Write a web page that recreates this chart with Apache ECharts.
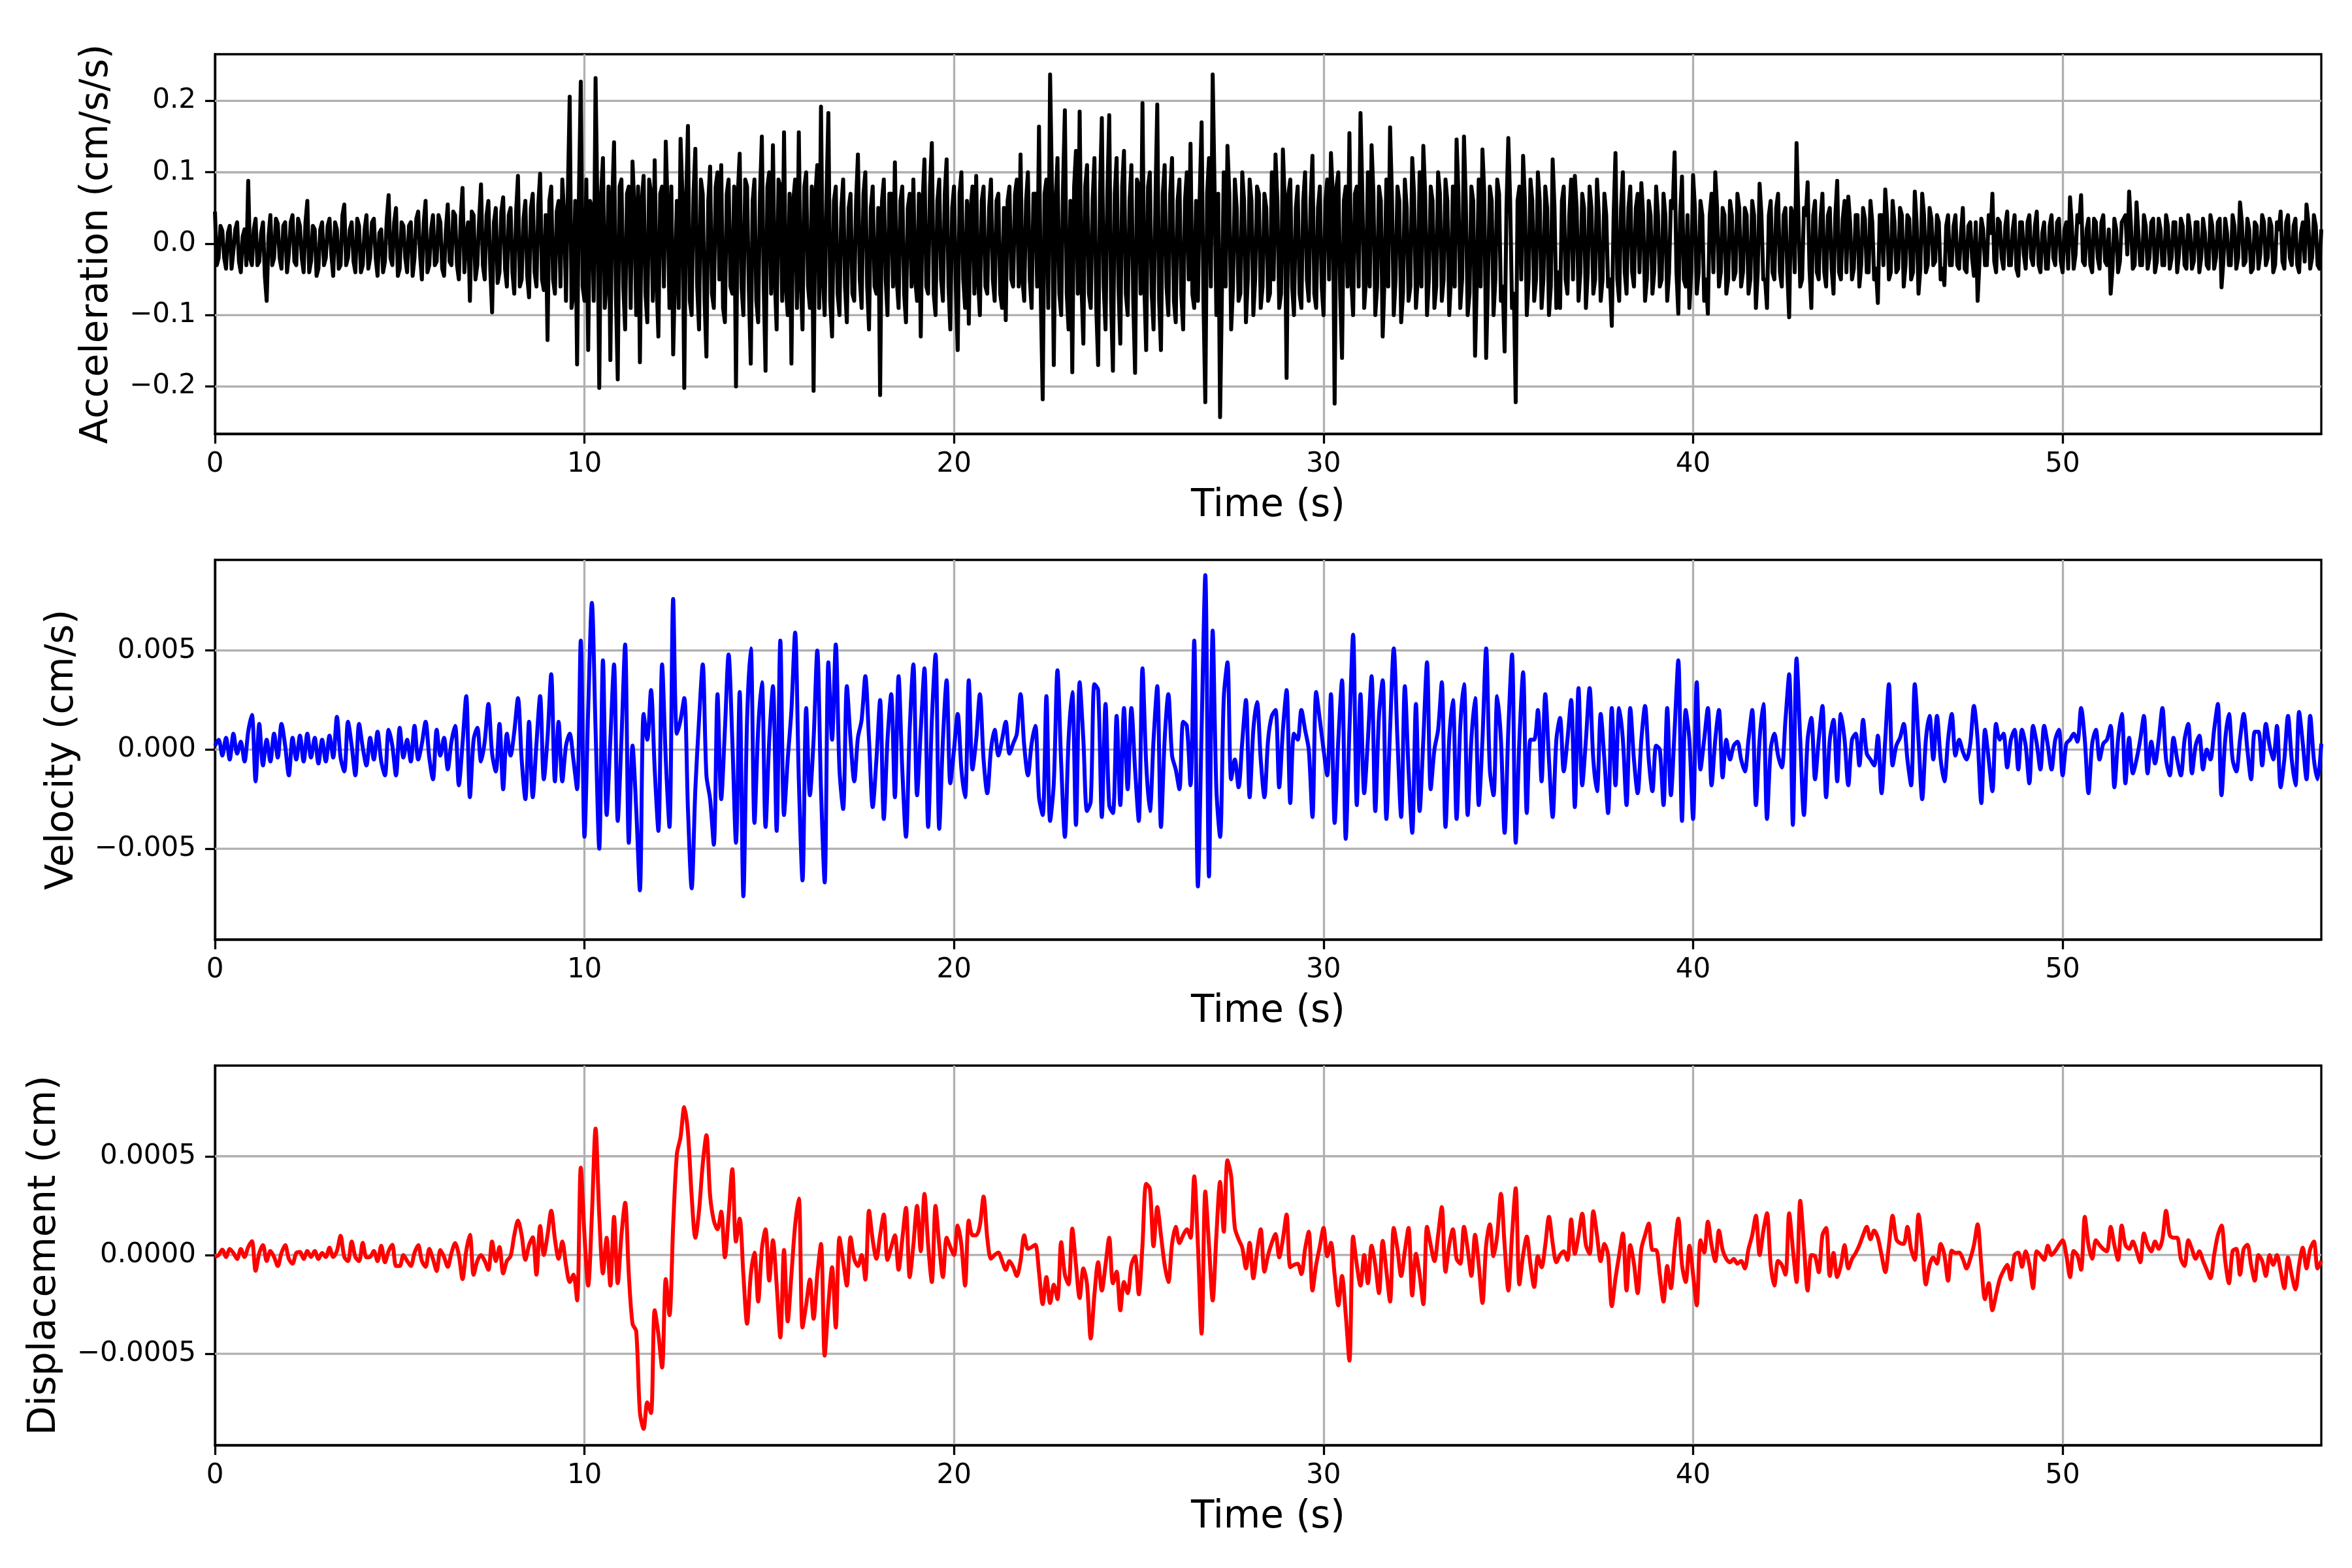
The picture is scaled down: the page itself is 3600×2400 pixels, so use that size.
<!DOCTYPE html>
<html>
<head>
<meta charset="utf-8">
<title>Acceleration, velocity and displacement</title>
<script src="https://cdn.jsdelivr.net/npm/echarts@6.0.0/dist/echarts.min.js"></script>
<style>
  html, body { margin: 0; padding: 0; background: #ffffff; }
  #chart { width: 3600px; height: 2400px; }
</style>
</head>
<body>
<div id="chart"></div>
<script>
// sampling step of the traces (s)
var dt = 0.1;

// acceleration, cm/s/s, at t = 0.0, 0.1, ... (one row per second)
var acceleration = [
  0.045, -0.02, 0.018, -0.035, 0.025, -0.01, 0.03, -0.04, 0.02, 0.088,
  -0.03, 0.035, -0.025, 0.03, -0.08, 0.04, -0.02, 0.028, -0.035, 0.03,
  -0.015, 0.04, -0.03, 0.025, -0.04, 0.06, -0.025, 0.02, -0.035, 0.03,
  -0.02, 0.035, -0.045, 0.02, -0.03, 0.055, -0.02, 0.03, -0.04, 0.025,
  -0.03, 0.04, -0.02, 0.035, -0.045, 0.02, -0.025, 0.068, -0.03, 0.05,
  -0.035, 0.025, -0.04, 0.03, -0.02, 0.045, -0.05, 0.06, -0.03, 0.04,
  -0.025, 0.03, -0.045, 0.055, -0.03, 0.04, -0.05, 0.078, 0.01, -0.08,
  0.04, -0.03, 0.083, -0.05, 0.06, -0.096, 0.05, -0.04, 0.065, -0.06,
  0.05, -0.07, 0.095, -0.05, 0.06, -0.075, 0.07, -0.06, 0.098, -0.065,
  -0.135, 0.08, -0.07, 0.06, 0.09, -0.08, 0.206, -0.07, -0.169, 0.227,
  -0.08, -0.149, 0.05, 0.232, -0.202, 0.12, -0.05, -0.163, 0.142, -0.19,
  0.09, -0.12, 0.08, 0.115, -0.1, -0.166, 0.095, -0.11, 0.07, 0.117,
  -0.13, 0.08, 0.143, -0.09, -0.155, 0.06, 0.147, -0.202, 0.165, -0.1,
  0.133, -0.12, 0.07, -0.158, 0.108, -0.09, 0.1, 0.11, -0.11, 0.09,
  -0.07, -0.2, 0.126, -0.1, 0.08, -0.168, 0.09, -0.11, 0.15, -0.178,
  0.1, 0.138, -0.12, 0.08, 0.156, -0.1, -0.168, 0.09, 0.156, -0.12,
  0.1, -0.09, -0.206, 0.11, 0.192, -0.1, 0.183, -0.13, 0.08, -0.1,
  0.09, -0.11, 0.07, -0.08, 0.125, -0.09, 0.1, -0.12, 0.08, -0.07,
  -0.212, 0.09, -0.1, 0.07, 0.114, -0.09, 0.08, -0.11, 0.07, 0.09,
  -0.08, -0.13, 0.118, -0.07, 0.141, -0.1, 0.09, -0.08, 0.118, -0.12,
  0.08, -0.149, 0.1, -0.09, -0.112, 0.08, 0.095, -0.1, 0.08, -0.07,
  0.09, -0.08, 0.07, -0.09, -0.107, 0.08, -0.06, 0.09, 0.125, -0.08,
  0.1, -0.09, 0.07, 0.164, -0.218, 0.09, 0.237, -0.17, 0.12, -0.1,
  0.187, -0.12, -0.18, 0.13, 0.185, -0.14, 0.11, -0.09, 0.12, -0.17,
  0.176, -0.12, 0.18, -0.178, 0.12, -0.14, 0.13, -0.1, 0.11, -0.181,
  0.08, 0.197, -0.149, 0.1, -0.12, 0.195, -0.149, 0.11, -0.1, 0.12,
  -0.11, 0.09, -0.12, 0.1, 0.14, -0.09, -0.08, 0.17, -0.222, 0.12,
  0.237, -0.1, -0.243, 0.1, 0.137, -0.12, 0.09, -0.08, 0.1, -0.11,
  0.09, -0.1, 0.08, -0.09, 0.07, -0.08, 0.1, 0.125, -0.09, 0.132,
  -0.188, 0.09, -0.1, 0.08, -0.09, 0.1, -0.08, 0.123, -0.09, 0.08,
  -0.1, 0.09, 0.127, -0.224, 0.1, -0.16, 0.08, 0.155, -0.1, 0.08,
  0.183, -0.09, 0.1, 0.138, -0.1, 0.08, -0.13, 0.09, 0.163, -0.1,
  0.08, -0.11, 0.09, -0.08, 0.12, -0.09, 0.1, 0.137, -0.1, 0.08,
  -0.09, 0.1, -0.08, 0.09, -0.1, 0.08, 0.146, -0.09, 0.15, -0.1,
  0.08, -0.157, 0.09, 0.132, -0.16, 0.08, -0.1, 0.09, -0.08, -0.151,
  0.148, -0.09, -0.222, 0.08, 0.123, -0.1, 0.09, -0.08, 0.1, -0.09,
  0.08, -0.1, 0.118, -0.09, -0.09, 0.08, -0.07, 0.09, 0.095, -0.08,
  0.07, -0.09, 0.08, -0.07, 0.09, -0.08, 0.07, -0.06, -0.115, 0.127,
  -0.08, 0.1, -0.07, 0.08, -0.06, 0.07, 0.085, -0.08, 0.06, -0.07,
  0.08, -0.06, 0.07, -0.08, 0.06, 0.128, -0.098, 0.094, -0.06, -0.09,
  0.096, -0.07, 0.06, -0.08, -0.098, 0.07, 0.1, -0.06, 0.05, -0.07,
  0.06, -0.05, 0.07, -0.06, 0.05, -0.07, 0.06, -0.09, 0.084, -0.05,
  -0.09, 0.06, -0.05, 0.07, -0.06, 0.05, -0.103, 0.04, 0.141, -0.06,
  0.05, 0.086, -0.09, 0.06, -0.05, 0.07, -0.06, 0.05, -0.07, 0.088,
  -0.05, 0.06, 0.066, -0.05, 0.04, -0.06, 0.05, -0.04, 0.06, -0.05,
  -0.083, 0.04, 0.076, -0.05, 0.06, -0.04, 0.05, -0.06, 0.04, -0.05,
  0.073, -0.07, 0.07, -0.04, 0.05, -0.03, 0.04, -0.05, -0.058, 0.04,
  -0.03, 0.04, -0.035, 0.05, -0.04, 0.03, -0.045, -0.08, 0.035, -0.03,
  0.04, 0.07, -0.04, 0.03, -0.035, 0.045, -0.03, 0.04, -0.045, 0.03,
  -0.035, 0.04, -0.03, 0.045, -0.04, 0.03, -0.035, 0.04, -0.03, 0.035,
  -0.04, 0.03, 0.065, -0.035, 0.04, 0.068, -0.03, 0.035, -0.04, 0.03,
  -0.035, 0.04, -0.03, -0.07, 0.035, -0.04, 0.03, 0.04, 0.073, -0.035,
  0.058, -0.03, 0.04, -0.035, 0.03, -0.04, 0.035, -0.03, 0.04, -0.035,
  0.03, -0.04, 0.035, -0.03, 0.04, -0.035, 0.03, -0.04, 0.035, -0.03,
  0.04, -0.035, 0.03, -0.061, 0.035, -0.03, 0.04, -0.035, 0.058, -0.03,
  0.035, -0.04, 0.03, -0.035, 0.04, -0.03, 0.035, -0.04, 0.03, 0.045,
  -0.035, 0.04, -0.03, 0.035, -0.04, 0.03, 0.055, -0.035, 0.04, -0.03,
  0.02
];

// acceleration, cm/s/s, at the half steps t = 0.05, 0.15, ... (one row per second)
var accelerationHalf = [
  -0.03, 0.025, -0.02, 0.015, -0.035, 0.02, -0.025, 0.01, -0.03, -0.02,
  0.02, -0.03, 0.015, -0.045, 0.01, -0.03, 0.035, -0.02, 0.025, -0.04,
  0.03, -0.025, 0.035, -0.02, 0.03, -0.04, 0.025, -0.045, 0.02, -0.03,
  0.025, -0.015, 0.03, -0.035, 0.04, -0.03, 0.02, -0.025, 0.035, -0.04,
  0.02, -0.035, 0.03, -0.02, 0.015, -0.04, 0.035, -0.02, 0.03, -0.045,
  0.03, -0.02, 0.025, -0.045, 0.035, -0.015, 0.03, -0.04, 0.02, -0.03,
  0.04, -0.035, 0.02, -0.025, 0.045, -0.03, 0.035, -0.04, 0.03, 0.045,
  -0.05, 0.035, -0.03, 0.04, -0.035, 0.03, -0.055, 0.045, -0.035, 0.04,
  -0.04, 0.045, -0.06, 0.035, -0.045, 0.05, -0.04, 0.055, -0.05, 0.04,
  0.06, -0.05, 0.045, -0.06, 0.04, 0.07, -0.09, 0.06, 0.07, -0.06,
  0.09, 0.06, -0.08, 0.05, 0.07, -0.09, 0.08, 0.06, -0.07, 0.08,
  -0.06, 0.07, -0.09, 0.05, 0.08, 0.06, -0.07, 0.09, -0.08, -0.05,
  0.07, -0.06, 0.05, 0.08, -0.04, -0.09, 0.07, 0.06, -0.08, 0.07,
  -0.06, 0.09, -0.08, 0.06, -0.07, 0.08, -0.05, -0.09, 0.07, -0.06,
  0.08, 0.07, -0.06, 0.09, -0.07, 0.06, -0.08, 0.07, -0.06, 0.08,
  -0.07, -0.05, 0.09, -0.08, -0.06, 0.07, 0.06, -0.09, -0.05, 0.08,
  -0.06, 0.08, 0.07, -0.09, -0.05, 0.07, -0.08, 0.06, -0.07, 0.05,
  -0.06, 0.05, -0.07, 0.06, -0.05, 0.07, -0.06, 0.05, -0.06, 0.05,
  0.06, -0.05, 0.07, -0.06, -0.05, 0.06, -0.07, 0.05, -0.06, -0.05,
  0.07, 0.06, -0.06, 0.08, -0.07, 0.06, -0.05, 0.07, -0.06, 0.05,
  -0.06, 0.07, -0.05, 0.06, 0.05, -0.07, -0.05, 0.06, -0.06, 0.05,
  -0.05, 0.06, -0.07, 0.05, 0.06, -0.05, 0.07, -0.06, -0.05, 0.06,
  -0.05, 0.07, -0.06, -0.08, 0.07, -0.09, 0.08, 0.06, -0.07, 0.08,
  -0.07, 0.06, 0.08, -0.07, -0.06, 0.08, -0.07, 0.06, -0.09, 0.07,
  -0.06, 0.07, -0.08, 0.07, -0.06, 0.08, -0.07, 0.06, -0.08, 0.09,
  -0.07, -0.06, 0.08, -0.07, 0.06, -0.08, 0.07, -0.06, 0.07, -0.08,
  0.06, -0.07, 0.06, -0.05, -0.07, 0.06, 0.07, -0.08, 0.07, -0.06,
  0.08, 0.07, -0.07, -0.06, 0.07, -0.06, 0.05, -0.07, 0.06, -0.05,
  0.06, -0.05, 0.07, -0.06, 0.05, -0.07, -0.05, 0.06, -0.07, 0.06,
  0.07, -0.06, 0.05, -0.07, 0.06, -0.05, 0.06, -0.07, 0.05, -0.06,
  0.06, -0.05, 0.07, 0.08, -0.07, 0.06, -0.06, -0.05, 0.07, -0.06,
  0.07, -0.05, -0.06, 0.07, -0.06, 0.06, -0.05, -0.06, 0.07, -0.05,
  0.06, -0.07, 0.05, -0.06, 0.07, -0.05, -0.06, 0.07, -0.05, 0.06,
  -0.06, 0.07, -0.05, 0.06, -0.05, -0.06, 0.07, -0.05, 0.06, -0.07,
  0.06, -0.05, -0.06, 0.07, -0.05, 0.06, -0.05, 0.07, -0.06, 0.05,
  0.06, -0.07, 0.06, -0.05, 0.06, -0.05, 0.06, -0.05, 0.06, -0.05,
  0.05, -0.06, 0.05, -0.04, 0.06, -0.05, 0.04, -0.05, 0.05, -0.04,
  0.05, -0.04, 0.05, -0.05, 0.04, -0.05, 0.04, -0.05, 0.04, -0.05,
  0.05, -0.04, 0.05, -0.04, 0.05, -0.04, 0.04, -0.05, 0.04, -0.04,
  0.04, -0.05, 0.04, -0.04, 0.05, -0.04, 0.04, -0.05, 0.04, -0.04,
  0.05, -0.04, 0.04, -0.05, 0.04, -0.04, 0.05, -0.04, 0.04, -0.05,
  0.04, -0.04, 0.05, -0.04, 0.04, -0.05, 0.04, -0.04, 0.04, -0.05,
  0.04, -0.04, 0.05, -0.04, 0.04, -0.04, 0.05, -0.04, 0.04, -0.05,
  0.04, -0.035, 0.04, -0.04, 0.035, -0.04, 0.04, -0.035, 0.04, -0.04,
  0.035, -0.04, 0.03, -0.035, 0.04, -0.03, 0.035, -0.04, 0.03, -0.035,
  0.04, -0.03, 0.035, -0.04, 0.03, -0.035, 0.04, -0.03, 0.035, -0.04,
  0.03, -0.035, 0.04, -0.03, 0.035, -0.025, 0.03, -0.035, 0.025, -0.03,
  0.025, -0.03, 0.015, -0.035, 0.025, -0.02, 0.03, -0.025, 0.02, -0.03,
  0.015, -0.025, 0.035, -0.02, 0.025, -0.03, 0.02, -0.035, 0.03, -0.015,
  0.03, -0.02, 0.025, -0.03, 0.015, -0.035, 0.025, -0.02, 0.03, -0.025,
  0.02, -0.035, 0.025, -0.015, 0.03, -0.025, 0.02, -0.03, 0.035, -0.02,
  0.03, -0.025, 0.02, -0.035, 0.02, -0.025, 0.035, -0.015, 0.025, -0.03,
  0.015, -0.03, 0.025, -0.02, 0.035, -0.025, 0.02, -0.03, 0.025, -0.02,
  0.03, -0.015, 0.025, -0.035, 0.02, -0.025, 0.03, -0.02, 0.015, -0.035,
  0.025, -0.02, 0.035, -0.025, 0.015, -0.03, 0.025, -0.02, 0.03, -0.025,
  0.02, -0.035, 0.025, -0.015, 0.03, -0.02, 0.025, -0.03, 0.02, -0.025,
  0.03, -0.02, 0.025, -0.03, 0.015, -0.025, 0.03, -0.02, 0.025, -0.035
];

// velocity, in 1e-3 cm/s, one row per second
var velocityE3 = [
  0.2, 0.5, -0.3, 0.6, -0.5, 0.8, -0.2, 0.4, -0.6, 0.9,
  1.75, -1.6, 1.3, -0.8, 0.5, -0.6, 0.8, -0.4, 1.3, 0.2,
  -1.3, 0.6, -0.5, 0.7, -0.6, 0.8, -0.4, 0.6, -0.7, 0.5,
  -0.6, 0.7, -0.4, 1.65, -0.4, -1.1, 1.4, 0.2, -1.3, 1.3,
  0.1, -0.8, 0.6, -0.5, 0.9, -0.6, -1.3, 1.0, 0.2, -1.3,
  1.1, -0.4, 0.5, -0.6, 1.2, -0.5, 0.3, 1.4, -0.4, -1.5,
  1.0, -0.3, 0.6, -1.0, 0.4, 1.2, -1.8, 0.3, 2.7, -2.4,
  0.5, 1.1, -0.6, 0.4, 2.3, -0.2, -1.1, 1.3, -2.0, 0.8,
  -0.3, 0.9, 2.6, -0.5, -2.5, 1.4, -2.4, 0.3, 2.7, -1.5,
  0.6, 3.8, -1.6, 1.4, -1.6, 0.2, 0.8, -0.5, -2.0, 5.5,
  -4.4, 2.0, 7.4, 1.0, -5.0, 4.5, -3.3, 0.5, 4.3, -3.6,
  0.5, 5.3, -4.7, 0.2, -3.0, -7.1, 1.8, 0.5, 3.0, -1.0,
  -4.1, 4.3, -0.5, -3.9, 7.6, 0.8, 1.5, 2.6, -3.0, -7.0,
  -2.0, 1.5, 4.3, -1.3, -2.5, -4.8, 2.8, -2.5, 1.0, 4.8,
  0.5, -4.7, 2.9, -7.4, 1.5, 5.1, -3.7, 1.0, 3.4, -3.9,
  0.5, 3.2, -4.1, 5.5, -3.3, -0.5, 2.0, 5.9, -1.5, -6.6,
  2.1, -2.3, 0.5, 5.0, -2.0, -6.7, 4.4, 0.5, 5.3, -1.0,
  -3.0, 3.2, 0.5, -1.6, 0.6, 1.5, 3.7, 0.5, -2.9, -0.5,
  2.5, -3.5, 0.5, 2.8, -2.4, 3.7, -1.0, -4.4, 1.0, 4.3,
  -2.3, 1.0, 4.1, -3.9, 1.5, 4.8, -4.0, 0.5, 3.5, -1.7,
  0.0, 1.8, -1.0, -2.4, 3.5, -1.0, 0.5, 2.8, -0.5, -2.2,
  0.0, 1.0, -0.3, 0.5, 1.4, -0.2, 0.3, 0.8, 2.8, 0.2,
  -1.3, 0.3, 1.2, -2.4, -3.3, 2.7, -3.6, -1.7, 4.0, -0.7,
  -4.4, 0.5, 2.9, -3.8, 3.4, 0.5, -3.1, -2.6, 3.3, 3.0,
  -3.4, 2.3, -2.8, -3.2, 1.7, -2.8, 2.1, -2.0, 2.1, -1.0,
  -3.6, 4.1, -0.7, -3.1, 0.5, 3.2, -3.9, 0.5, 2.8, -0.3,
  -1.0, -2.0, 1.4, 1.2, -1.8, 5.5, -6.9, 1.0, 8.8, -6.4,
  6.0, -2.0, -4.4, 2.6, 4.4, -1.5, -0.5, -1.9, 0.4, 2.5,
  -2.4, 1.0, 2.4, -0.5, -2.4, 0.5, 1.7, 2.0, -1.9, 1.0,
  3.0, -2.7, 0.8, 0.5, 2.0, 1.0, 0.0, -3.4, 2.9, 1.5,
  0.0, -1.3, 2.8, -3.7, 0.5, 3.5, -4.5, 1.0, 5.8, -2.8,
  2.8, -2.2, 0.5, 3.7, -3.1, 1.7, 3.5, -3.5, 1.0, 5.1,
  0.5, -3.4, 3.2, -1.0, -4.2, 2.3, -3.1, 0.5, 4.4, -2.0,
  0.0, 1.0, 3.4, -3.9, 0.5, 2.5, -3.5, 1.2, 3.3, -3.3,
  0.5, 2.6, -2.8, 0.5, 5.1, -1.0, -2.3, 2.7, 0.5, -4.2,
  1.0, 4.8, -4.7, 0.5, 3.9, -3.2, 0.5, 0.5, 2.0, -1.6,
  2.8, -0.5, -3.4, 0.5, 1.6, -1.1, 0.5, 2.5, -2.9, 3.1,
  -1.8, 0.5, 3.1, -0.5, -2.1, 1.8, -0.5, -3.2, 2.1, -1.8,
  2.1, 0.5, -2.8, 2.1, -0.5, -2.2, 0.5, 2.2, -0.5, -2.1,
  0.2, 0.0, -2.8, 2.1, -2.3, 1.0, 4.5, -3.6, 2.0, 0.5,
  -3.5, 3.4, -1.0, 0.5, 2.1, -1.8, 0.5, 2.0, -1.4, 0.5,
  -0.5, 0.2, 0.4, -0.5, -1.1, 0.5, 2.0, -2.8, 0.5, 2.3,
  -3.5, 0.0, 0.8, -0.3, -0.9, 1.5, 3.8, -3.8, 4.6, 0.5,
  -3.3, 0.5, 1.6, -1.5, 0.5, 2.2, -2.4, 0.5, 1.5, -1.6,
  1.8, 0.5, -1.8, 0.5, 0.8, -0.8, 1.5, -0.2, -0.5, -0.8,
  0.7, -2.2, 0.5, 3.3, -0.8, 0.2, 0.6, 1.3, -0.5, -1.8,
  3.3, 0.5, -2.5, 0.5, 1.7, -0.5, 1.7, -0.5, -1.6, 0.5,
  1.8, -0.3, 0.5, -0.1, -0.5, 0.3, 2.2, 0.5, -2.7, 1.0,
  -0.5, -2.1, 1.3, 0.5, 0.8, -0.9, 0.5, 1.0, -1.0, 1.0,
  0.2, -1.7, 1.2, 0.3, -1.0, 1.2, 0.2, -1.0, 0.5, 1.0,
  -1.3, 0.3, 0.5, 0.8, 0.4, 2.1, 0.5, -2.2, 0.3, 1.0,
  -0.5, 0.3, 0.5, 1.2, -1.9, 0.5, 1.8, -1.7, 0.6, -1.2,
  -0.5, 0.5, 1.7, -1.2, 0.4, -0.7, 0.5, 2.1, -0.5, -1.3,
  0.6, -0.5, -1.3, 0.5, 1.3, -1.2, 0.2, 0.7, -1.0, 0.0,
  -0.5, 1.0, 2.3, -2.3, 0.5, 1.8, -0.5, -1.1, 0.5, 1.8,
  0.0, -1.5, 0.9, 0.9, -0.8, 1.3, 0.2, -0.5, 1.2, -1.9,
  -0.5, 1.7, -0.5, -1.8, 1.9, 0.3, -1.5, 1.7, -0.5, -1.5,
  0.3
];

// displacement, in 1e-4 cm, one row per second
var displacementE4 = [
  -0.1, 0.0, 0.27, -0.1, 0.3, 0.1, -0.2, 0.3, -0.1, 0.4,
  0.7, -0.8, 0.1, 0.5, -0.3, 0.2, -0.1, -0.56, 0.1, 0.5,
  -0.2, -0.44, 0.1, 0.15, -0.2, 0.2, -0.1, 0.2, -0.2, 0.1,
  -0.1, 0.37, -0.1, 0.2, 0.97, -0.1, -0.31, 0.68, -0.1, -0.31,
  0.62, -0.12, -0.1, 0.2, -0.31, 0.47, -0.37, 0.2, 0.52, -0.56,
  -0.56, 0.0, -0.3, -0.56, 0.1, 0.5, -0.3, -0.6, 0.31, -0.2,
  -0.81, 0.25, -0.1, -0.6, 0.1, 0.6, 0.0, -1.22, 0.2, 1.02,
  -1.0, -0.3, 0.0, -0.3, -0.75, 0.68, -0.31, 0.4, -0.93, -0.3,
  -0.06, 1.0, 1.74, 1.0, -0.25, 0.5, 0.9, -1.0, 1.47, 0.0,
  1.0, 2.24, 0.8, -0.19, 0.68, -0.5, -1.37, -1.0, -2.3, 4.42,
  1.0, -1.55, 2.0, 6.4, 2.0, -0.93, 0.87, -1.55, 1.93, -1.43,
  1.0, 2.64, -1.0, -3.48, -3.86, -7.96, -8.8, -7.46, -8.0, -2.8,
  -4.0, -5.7, -1.22, -3.05, 1.5, 5.1, 5.97, 7.49, 6.2, 3.0,
  0.87, 2.24, 4.6, 6.07, 3.0, 1.74, 1.3, 2.2, -0.12, 2.0,
  4.35, 0.68, 1.84, -1.0, -3.48, -1.0, 0.12, -2.36, 0.3, 1.3,
  -1.3, 0.75, -1.5, -4.17, 0.25, -3.36, -1.0, 1.5, 2.86, -3.67,
  -2.5, -1.24, -3.23, -1.0, 0.56, -5.1, -2.5, -0.62, -3.67, 0.87,
  -0.3, -1.55, 0.9, -0.2, -0.56, 0.0, -1.24, 2.24, 0.75, -0.19,
  1.0, 2.05, -0.25, 0.4, 1.0, -0.75, 0.8, 2.39, -1.12, 0.5,
  2.49, 0.19, 3.1, 0.5, -1.37, 2.49, 0.5, -1.12, 0.87, 0.4,
  0.0, 1.49, 0.5, -1.55, 1.74, 1.0, 1.0, 1.5, 2.96, 0.87,
  -0.19, 0.0, 0.12, -0.3, -0.75, -0.31, -0.6, -1.06, -0.31, 1.0,
  0.31, 0.4, 0.52, -0.87, -2.49, -1.12, -2.43, -1.5, -2.24, 0.65,
  -1.0, -1.49, 1.34, -0.5, -2.18, -0.68, -1.5, -4.23, -2.0, -0.37,
  -1.8, -0.5, 0.87, -1.43, -0.85, -2.8, -1.37, -1.93, -0.5, -0.06,
  -1.99, 0.5, 3.6, 3.36, 0.44, 2.43, 1.0, -0.5, -1.37, 0.56,
  1.43, 0.6, 1.0, 1.3, 0.87, 3.98, 0.5, -3.98, 3.21, 0.5,
  -2.3, 1.0, 3.7, 1.18, 4.79, 3.98, 1.37, 0.8, 0.37, -0.68,
  0.62, -1.18, 0.2, 1.3, -0.85, 0.0, 0.62, 1.06, -0.12, 0.8,
  2.05, -0.62, -0.5, -0.44, -0.97, 0.3, 1.18, -1.8, -0.5, 0.44,
  1.37, -0.06, 0.62, -1.0, -2.55, -1.06, -3.0, -5.35, 0.93, -0.5,
  -1.55, 0.0, -1.43, 0.47, -0.5, -1.93, 0.72, -0.8, -2.36, 1.37,
  0.3, -1.06, 0.2, 1.37, -2.05, 0.06, -1.0, -2.49, 1.43, 0.5,
  -0.31, 1.0, 2.43, -0.85, 0.5, 1.3, -0.2, -0.44, 1.43, 0.3,
  -1.06, 1.02, -0.5, -2.43, 0.5, 1.55, -0.06, 1.0, 3.1, 0.5,
  -1.8, 1.0, 3.38, -1.49, 0.0, 0.93, -0.5, -1.62, -0.06, -0.62,
  0.5, 1.93, 0.6, -0.37, 0.0, 0.19, -0.25, 1.8, 0.06, 1.0,
  2.09, 0.5, 0.06, 2.21, 1.0, -0.31, 0.56, 0.0, -2.59, -1.18,
  0.0, 1.09, -1.8, 0.5, -0.44, -1.93, 0.3, 1.0, 1.59, 0.25,
  0.25, -1.0, -2.36, -0.56, -1.68, 0.3, 1.84, -0.5, -1.37, 0.47,
  -1.0, -2.55, 0.75, 0.12, 1.68, 0.5, -0.31, 1.24, 0.25, -0.2,
  -0.37, -0.2, -0.44, -0.3, -0.68, 0.3, 1.0, 1.99, 0.0, 1.2,
  2.11, -0.5, -1.55, -0.3, -0.5, -1.0, 2.11, 0.3, -1.37, 2.74,
  0.5, -1.8, 0.0, -0.06, -0.87, 1.0, 1.37, -1.06, 0.1, -1.12,
  -0.5, 0.5, -0.68, -0.2, 0.1, 0.5, 1.0, 1.43, 0.8, 1.24,
  0.87, 0.0, -0.87, 0.5, 1.99, 0.8, 0.6, 0.56, 1.43, 0.3,
  -0.25, 2.05, 0.5, -1.49, -0.5, -0.12, -0.44, 0.56, 0.0, -1.3,
  0.22, 0.1, 0.12, -0.2, -0.68, -0.2, 0.5, 1.55, -0.5, -2.24,
  -1.43, -2.8, -2.0, -1.22, -0.8, -0.5, -1.24, 0.0, 0.12, -0.6,
  0.19, -0.5, -1.68, 0.19, 0.0, -0.25, 0.47, 0.0, 0.2, 0.5,
  0.75, 0.0, -1.12, 0.2, -0.02, -0.75, 1.93, 0.5, -0.19, 0.75,
  0.5, 0.3, 0.19, 1.43, 0.5, -0.25, 1.49, 0.5, 0.31, 0.68,
  0.2, -0.37, 1.09, 0.5, 0.19, 0.68, 0.31, 0.8, 2.24, 1.0,
  0.87, 0.87, -0.2, -0.56, 0.75, 0.3, -0.19, 0.19, -0.3, -0.75,
  -1.18, 0.0, 1.0, 1.49, -0.3, -1.43, 0.2, 0.31, -1.0, 0.3,
  0.52, -0.5, -1.3, 0.0, -0.3, -1.06, 0.0, -0.5, 0.0, -0.8,
  -1.68, -0.12, -1.0, -1.74, -0.5, 0.37, -0.68, 0.3, 0.68, -0.68,
  -0.3
];

// tick labels
var timeTicks = [0, 10, 20, 30, 40, 50];
var accTicks = [-0.2, -0.1, 0.0, 0.1, 0.2];
var velTicks = [-0.005, 0.0, 0.005];
var dispTicks = [-0.0005, 0.0, 0.0005];

var font = 'DejaVu Sans';
var tMax = 57;

// acceleration points: full steps interleaved with the half steps
var accPoints = [];
acceleration.forEach(function (v, i) {
    accPoints.push([i * dt, v]);
    if (i < accelerationHalf.length) accPoints.push([(i + 0.5) * dt, accelerationHalf[i]]);
});

var panels = [
    { name: 'Acceleration (cm/s/s)', points: accPoints, color: '#000000',
      ticks: accTicks, digits: 1, min: -0.2663, max: 0.2654, nameGap: 151, top: 83 },
    { name: 'Velocity (cm/s)', color: '#0000ff',
      points: velocityE3.map(function (v, i) { return [i * dt, v * 1e-3]; }),
      ticks: velTicks, digits: 3, min: -0.00958, max: 0.00957, nameGap: 204, top: 857, smooth: 0.3 },
    { name: 'Displacement (cm)', color: '#ff0000',
      points: displacementE4.map(function (v, i) { return [i * dt, v * 1e-4]; }),
      ticks: dispTicks, digits: 4, min: -0.000963, max: 0.000959, nameGap: 231, top: 1631, smooth: 0.3 }
];

function tickText(v, digits) {
    return v.toFixed(digits).replace('-', '\u2212');
}

var axisLineStyle = { color: '#000000', width: 3.3 };
var grids = [], xAxes = [], yAxes = [], series = [];

panels.forEach(function (p, k) {
    grids.push({
        left: 329, width: 3224, top: p.top, height: 581,
        show: true, borderColor: '#000000', borderWidth: 3.3,
        backgroundColor: 'transparent', containLabel: false
    });
    xAxes.push({
        type: 'value', gridIndex: k, min: 0, max: tMax, interval: 10,
        name: 'Time (s)', nameLocation: 'middle', nameGap: 82,
        nameTextStyle: { fontFamily: font, fontSize: 58, color: '#000000' },
        axisLine: { show: true, onZero: false, lineStyle: axisLineStyle },
        axisTick: { show: true, length: 15, customValues: timeTicks, lineStyle: axisLineStyle },
        axisLabel: { show: true, margin: 26, fontFamily: font, fontSize: 42, color: '#000000',
                     customValues: timeTicks, formatter: function (v) { return String(v); } },
        splitLine: { show: true, lineStyle: { color: '#b0b0b0', width: 3.3 } }
    });
    yAxes.push({
        type: 'value', gridIndex: k, min: p.min, max: p.max,
        name: p.name, nameLocation: 'middle', nameRotate: 90, nameGap: p.nameGap,
        nameTextStyle: { fontFamily: font, fontSize: 58, color: '#000000' },
        axisLine: { show: true, onZero: false, lineStyle: axisLineStyle },
        axisTick: { show: true, length: 15, customValues: p.ticks, lineStyle: axisLineStyle },
        axisLabel: { show: true, margin: 29, fontFamily: font, fontSize: 42, color: '#000000',
                     customValues: p.ticks,
                     formatter: (function (d) { return function (v) { return tickText(v, d); }; })(p.digits) },
        splitLine: { show: false }
    });
    // horizontal grid lines at the tick values
    p.ticks.forEach(function (v) {
        series.push({
            type: 'line', xAxisIndex: k, yAxisIndex: k, silent: true, z: 1,
            symbol: 'none', animation: false,
            lineStyle: { color: '#b0b0b0', width: 3.3 },
            data: [[0, v], [tMax, v]]
        });
    });
    series.push({
        type: 'line', xAxisIndex: k, yAxisIndex: k, silent: true, z: 3,
        symbol: 'none', showSymbol: false, animation: false,
        smooth: p.smooth || false,
        lineStyle: { color: p.color, width: 6, join: 'round' },
        itemStyle: { color: p.color },
        data: p.points
    });
});

var chart = echarts.init(document.getElementById('chart'));
chart.setOption({
    animation: false,
    backgroundColor: '#ffffff',
    textStyle: { fontFamily: font },
    grid: grids,
    xAxis: xAxes,
    yAxis: yAxes,
    series: series
});
</script>
</body>
</html>
